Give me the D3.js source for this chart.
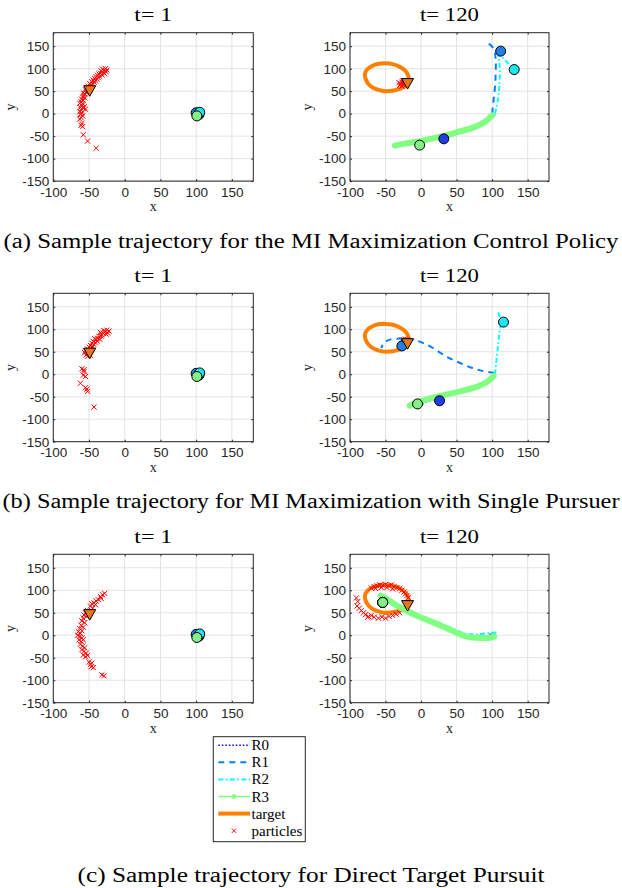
<!DOCTYPE html>
<html>
<head>
<meta charset="utf-8">
<script src="https://cdn.jsdelivr.net/npm/d3@7"></script>
<style>
  body { margin: 0; background: #fff; }
  svg { display: block; }
</style>
</head>
<body>
<div id="viz"></div>
<script>
const width = 622, height = 888;

// axis setup (same for every panel)
const xDomain = [-100, 180];
const yDomain = [-150, 180];
const xTicks = [-100, -50, 0, 50, 100, 150];
const yTicks = [-150, -100, -50, 0, 50, 100, 150];
const titles = ["t= 1", "t= 120"];
const captions = [
  "(a) Sample trajectory for the MI Maximization Control Policy",
  "(b) Sample trajectory for MI Maximization with Single Pursuer",
  "(c) Sample trajectory for Direct Target Pursuit"
];
const robots = ["R0", "R1", "R2", "R3"];
const legendLabels = ["R0", "R1", "R2", "R3", "target", "particles"];

// robot start positions (t = 1), same in all rows
const robotsStart = [[104, -2], [100, 2], [105, 3], [101, -5]];

// target start / end positions
const targetStart = [[-49, 52], [-49, 48], [-49, 47]];
const targetEnd = [[-19, 68], [-19, 69], [-19, 67]];

// target loop (t = 1 .. 120)
const targetLoop = [[-50, 50], [-40, 51], [-30, 55], [-22, 62], [-18, 72], [-18, 84], [-22, 95], [-30, 104],
  [-40, 110], [-50, 112], [-60, 111], [-69, 106], [-76, 98], [-79, 88], [-78, 77], [-74, 66], [-67, 57],
  [-58, 52], [-48, 50], [-37, 52], [-28, 57], [-20, 66]];

// particles
const particlesA1 = [[-27, 100], [-25, 97], [-29, 96], [-31, 99], [-26, 93], [-30, 92], [-33, 95], [-28, 89],
  [-34, 90], [-32, 86], [-36, 88], [-35, 83], [-38, 85], [-37, 80], [-40, 82], [-39, 77], [-42, 78], [-41, 73],
  [-44, 74], [-43, 70], [-46, 71], [-45, 66], [-47, 63], [-49, 67], [-48, 60], [-51, 61], [-50, 56], [-53, 58],
  [-52, 52], [-55, 53], [-54, 47], [-56, 44], [-58, 46], [-57, 40], [-59, 37], [-56, 35], [-60, 32], [-58, 29],
  [-61, 26], [-59, 22], [-63, 23], [-60, 18], [-62, 14], [-58, 12], [-61, 8], [-63, 4], [-60, 2], [-62, -2],
  [-59, -5], [-61, -9], [-63, -12], [-57, 15], [-55, 10], [-60, -22], [-61, -26], [-59, -29], [-58, -47],
  [-52, -61], [-40, -77]];
const particlesA2 = [[-29, 66], [-27, 70], [-25, 64], [-31, 69], [-23, 72], [-27, 61], [-24, 68], [-21, 64],
  [-30, 63], [-26, 73]];
const particlesB1 = [[-25, 98], [-22, 96], [-27, 95], [-24, 92], [-29, 97], [-30, 91], [-26, 89], [-32, 88],
  [-34, 93], [-33, 85], [-36, 84], [-38, 80], [-35, 78], [-40, 77], [-42, 79], [-39, 74], [-44, 73], [-41, 70],
  [-46, 69], [-43, 66], [-48, 64], [-45, 62], [-50, 60], [-47, 57], [-52, 56], [-49, 53], [-53, 50], [-51, 46],
  [-54, 43], [-52, 40], [-48, 42], [-56, 48], [-55, 52], [-60, 12], [-57, 10], [-58, -2], [-55, -5], [-57, 6],
  [-62, -20], [-55, -30], [-53, -33], [-52, -38], [-43, -73]];
const particlesB2 = [[-25, 77], [-22, 78], [-19, 77], [-23, 75], [-27, 76]];
const particlesC1 = [[-28, 93], [-31, 90], [-34, 86], [-33, 82], [-37, 79], [-40, 76], [-43, 72], [-41, 68],
  [-46, 70], [-48, 65], [-45, 60], [-52, 55], [-55, 50], [-57, 45], [-53, 42], [-58, 38], [-60, 32], [-56, 28],
  [-61, 22], [-58, 18], [-63, 15], [-60, 10], [-65, 8], [-62, 4], [-66, 0], [-63, -3], [-60, -6], [-64, -10],
  [-61, -14], [-58, -10], [-62, -20], [-59, -24], [-56, -28], [-60, -32], [-57, -36], [-54, -40], [-58, -44],
  [-55, -48], [-52, -45], [-50, -60], [-48, -65], [-46, -62], [-47, -70], [-44, -72], [-32, -88], [-29, -90]];
const particlesC2 = [[-70, 105], [-66, 108], [-62, 110], [-58, 112], [-54, 111], [-50, 113], [-46, 110],
  [-42, 112], [-38, 108], [-34, 106], [-30, 104], [-27, 100], [-24, 96], [-22, 92], [-20, 88], [-18, 84],
  [-56, 106], [-48, 106], [-40, 103], [-64, 104], [-91, 83], [-89, 75], [-90, 65], [-87, 60], [-84, 55],
  [-81, 50], [-78, 46], [-74, 42], [-70, 44], [-66, 40], [-60, 38], [-55, 41], [-50, 38], [-45, 42],
  [-40, 44], [-35, 47], [-30, 50], [-75, 40]];

// robot trajectories (t = 120)
const r0A = [[104, -2], [99, -12], [90, -22], [76, -31], [55, -41], [32, -50], [10, -58], [-2, -66], [-6, -73]];
const r1A = [[100, 0], [102, 30], [104, 60], [105, 90], [105, 120], [103, 140], [99, 151], [94, 156]];
const r2A = [[104, 0], [108, 30], [110, 60], [111, 90], [110, 115], [109, 132], [115, 124], [123, 111], [131, 99]];
const r3A = [[100, -4], [90, -18], [75, -30], [51, -41], [30, -50], [5, -59], [-20, -66], [-37, -71]];
const robotsEndA = [[32, -56], [112, 139], [131, 98], [-2, -70]];

const r0B = [[104, -5], [96, -17], [82, -28], [62, -38], [40, -47], [20, -55], [2, -66], [-4, -77]];
const r1B = [[103, 3], [85, 8], [70, 15], [55, 25], [37, 38], [20, 55], [5, 68], [-7, 75], [-20, 79],
  [-35, 79], [-46, 76], [-53, 68], [-56, 58]];
const r2B = [[104, 0], [106, 30], [108, 60], [110, 90], [112, 110], [111, 125], [108, 140]];
const r3B = [[102, -4], [92, -18], [78, -28], [55, -38], [30, -47], [10, -55], [-5, -62], [-16, -70]];
const robotsEndB = [[26, -59], [-27, 63], [116, 116], [-5, -66]];

const r0C = [[105, -5], [95, -8], [85, -7], [72, -6], [62, -3], [52, 3], [40, 12], [28, 20], [15, 29], [2, 37],
  [-10, 46], [-22, 55], [-34, 66], [-44, 76], [-52, 84]];
const r1C = [[104, 2], [95, 1], [85, -1], [72, -1], [62, 1], [52, 6], [40, 15], [28, 22], [15, 30], [2, 38],
  [-10, 47], [-22, 56], [-34, 67], [-44, 77], [-52, 84]];
const r2C = [[106, 6], [96, 5], [85, 3], [74, 2], [64, 3], [53, 9], [42, 17], [30, 24], [18, 31], [5, 39],
  [-8, 48], [-20, 57], [-32, 67], [-42, 77], [-50, 84]];
const r3C = [[103, -3], [95, -6], [85, -6], [72, -5], [62, -2], [52, 4], [40, 13], [30, 20], [18, 28], [5, 36],
  [-8, 45], [-20, 54], [-32, 64], [-42, 74], [-50, 82], [-57, 88]];
const robotsEndC = [[-54, 73], [-54, 73], [-54, 73], [-54, 73]];

// styles
const lineColors = ["#0000ff", "#0080ff", "#00ffff", "#80ff80"];
const dotColors = ["#1f3ee6", "#1f80ea", "#1ee6ee", "#86ee86"];
const dashes = ["1.5,2", "6,5", "5,2.5,1.5,2.5", null];
const lineWidths = [1.6, 2, 2, 6];
const orange = "#ff8000", triFill = "#e6761a";
const axisColor = "#262626", gridColor = "#e3e3e3";
const serif = "'Liberation Serif', 'Times New Roman', serif";
const sans = "'Liberation Sans', Arial, Helvetica, sans-serif";

const rowTops = [32.7, 293.3, 554.3];
const colLefts = [53.3, 350];
const colWidths = [200, 199];
const ph = 148.4;

const rows = [
  { p1: particlesA1, p2: particlesA2, paths: [r0A, r1A, r2A, r3A], ends: robotsEndA },
  { p1: particlesB1, p2: particlesB2, paths: [r0B, r1B, r2B, r3B], ends: robotsEndB },
  { p1: particlesC1, p2: particlesC2, paths: [r0C, r1C, r2C, r3C], ends: robotsEndC }
];

const svg = d3.select("#viz").append("svg").attr("width", width).attr("height", height);
const defs = svg.append("defs");
const xMark = "M-2.6,-2.6L2.6,2.6M-2.6,2.6L2.6,-2.6";
const triangle = "M-6,-4.5L6,-4.5L0,6Z";

function panel(id, left, top, w, title, d) {
  const x = d3.scaleLinear().domain(xDomain).range([left, left + w]);
  const y = d3.scaleLinear().domain(yDomain).range([top + ph, top]);
  const g = svg.append("g");

  defs.append("clipPath").attr("id", id).append("rect")
    .attr("x", left).attr("y", top).attr("width", w).attr("height", ph);

  // grid
  g.append("g").selectAll("line").data(xTicks).join("line")
    .attr("x1", v => x(v)).attr("x2", v => x(v)).attr("y1", top).attr("y2", top + ph)
    .attr("stroke", gridColor).attr("stroke-width", 1);
  g.append("g").selectAll("line").data(yTicks).join("line")
    .attr("y1", v => y(v)).attr("y2", v => y(v)).attr("x1", left).attr("x2", left + w)
    .attr("stroke", gridColor).attr("stroke-width", 1);

  const plot = g.append("g").attr("clip-path", `url(#${id})`);
  const line = d3.line().x(p => x(p[0])).y(p => y(p[1])).curve(d3.curveCatmullRom);

  if (d.loop) {
    plot.append("path").attr("d", line(d.loop)).attr("fill", "none")
      .attr("stroke", orange).attr("stroke-width", 4).attr("stroke-linecap", "round");
  }
  plot.append("g").selectAll("path").data(d.particles).join("path")
    .attr("transform", p => `translate(${x(p[0])},${y(p[1])})`)
    .attr("d", xMark).attr("stroke", "#ff0000").attr("stroke-width", 1).attr("fill", "none");

  if (d.paths) {
    d.paths.forEach((pts, i) => {
      plot.append("path").attr("d", line(pts)).attr("fill", "none")
        .attr("stroke", lineColors[i]).attr("stroke-width", lineWidths[i])
        .attr("stroke-dasharray", dashes[i]).attr("stroke-linecap", i === 3 ? "round" : "butt");
    });
  }
  plot.append("g").selectAll("circle").data(d.robots).join("circle")
    .attr("cx", p => x(p[0])).attr("cy", p => y(p[1])).attr("r", 5)
    .attr("fill", (p, i) => dotColors[i]).attr("stroke", "#000").attr("stroke-width", 1);
  plot.append("path").attr("transform", `translate(${x(d.tri[0])},${y(d.tri[1])})`)
    .attr("d", triangle).attr("fill", triFill).attr("stroke", "#000").attr("stroke-width", 1);

  // axes, ticks pointing inward on all four sides
  const fmt = v => String(v);
  const bottom = g.append("g").attr("transform", `translate(0,${top + ph})`)
    .call(d3.axisBottom(x).tickValues(xTicks).tickFormat(fmt).tickSizeInner(-2).tickSizeOuter(0).tickPadding(6));
  const leftAx = g.append("g").attr("transform", `translate(${left},0)`)
    .call(d3.axisLeft(y).tickValues(yTicks).tickFormat(fmt).tickSizeInner(-2).tickSizeOuter(0).tickPadding(4));
  g.append("g").attr("transform", `translate(0,${top})`)
    .call(d3.axisTop(x).tickValues(xTicks).tickFormat("").tickSizeInner(-2).tickSizeOuter(0));
  g.append("g").attr("transform", `translate(${left + w},0)`)
    .call(d3.axisRight(y).tickValues(yTicks).tickFormat("").tickSizeInner(-2).tickSizeOuter(0));
  g.selectAll(".domain").remove();
  g.selectAll(".tick line").attr("stroke", axisColor);
  [bottom, leftAx].forEach(a => a.selectAll("text")
    .attr("fill", axisColor).style("font-family", sans).style("font-size", "13.5px"));

  g.append("rect").attr("x", left).attr("y", top).attr("width", w).attr("height", ph)
    .attr("fill", "none").attr("stroke", axisColor).attr("stroke-width", 1);

  // labels
  g.append("text").attr("x", left + w / 2).attr("y", top - 11.5).attr("text-anchor", "middle")
    .style("font-family", serif).style("font-size", "18px")
    .attr("textLength", title.length > 4 ? 59 : 38).attr("lengthAdjust", "spacingAndGlyphs")
    .text(title);
  g.append("text").attr("x", left + w / 2).attr("y", top + ph + 30).attr("text-anchor", "middle")
    .style("font-family", serif).style("font-size", "14px").attr("fill", axisColor).text("x");
  g.append("text").attr("transform", `translate(${left - 38},${top + ph / 2}) rotate(-90)`)
    .attr("text-anchor", "middle")
    .style("font-family", serif).style("font-size", "14px").attr("fill", axisColor).text("y");
}

rows.forEach((r, k) => {
  panel(`c${k}a`, colLefts[0], rowTops[k], colWidths[0], titles[0],
    { particles: r.p1, robots: robotsStart, tri: targetStart[k] });
  panel(`c${k}b`, colLefts[1], rowTops[k], colWidths[1], titles[1],
    { loop: targetLoop, particles: r.p2, paths: r.paths, robots: r.ends, tri: targetEnd[k] });
});

// captions
const capY = [248, 508, 881.5];
const capW = [615, 617, 467];
captions.forEach((c, k) => {
  svg.append("text").attr("x", 311).attr("y", capY[k]).attr("text-anchor", "middle")
    .style("font-family", serif).style("font-size", "20px")
    .attr("textLength", capW[k]).attr("lengthAdjust", "spacingAndGlyphs").text(c);
});

// legend
const lg = svg.append("g");
lg.append("rect").attr("x", 213.3).attr("y", 736.7).attr("width", 92).attr("height", 105)
  .attr("fill", "#fff").attr("stroke", axisColor).attr("stroke-width", 1);
const ly = d3.scalePoint().domain(legendLabels).range([745.2, 830.7]);
robots.forEach((r, i) => {
  lg.append("line").attr("x1", 218.3).attr("x2", 250).attr("y1", ly(r)).attr("y2", ly(r))
    .attr("stroke", lineColors[i]).attr("stroke-width", i === 3 ? 1.5 : lineWidths[i])
    .attr("stroke-dasharray", dashes[i]);
});
lg.append("path").attr("transform", `translate(234,${ly("R3")})`)
  .attr("d", "M-2.5,0L2.5,0M0,-2.5L0,2.5M-1.8,-1.8L1.8,1.8M-1.8,1.8L1.8,-1.8")
  .attr("stroke", lineColors[3]).attr("stroke-width", 1.2);
lg.append("line").attr("x1", 218.3).attr("x2", 250).attr("y1", ly("target")).attr("y2", ly("target"))
  .attr("stroke", orange).attr("stroke-width", 4);
lg.append("path").attr("transform", `translate(234,${ly("particles")})`)
  .attr("d", "M-2.2,-2.2L2.2,2.2M-2.2,2.2L2.2,-2.2").attr("stroke", "#ff0000").attr("stroke-width", 1);
lg.selectAll("text.lab").data(legendLabels).join("text").attr("class", "lab")
  .attr("x", 251.5).attr("y", v => ly(v) + 5)
  .style("font-family", serif).style("font-size", "15px").text(v => v);
</script>
</body>
</html>
